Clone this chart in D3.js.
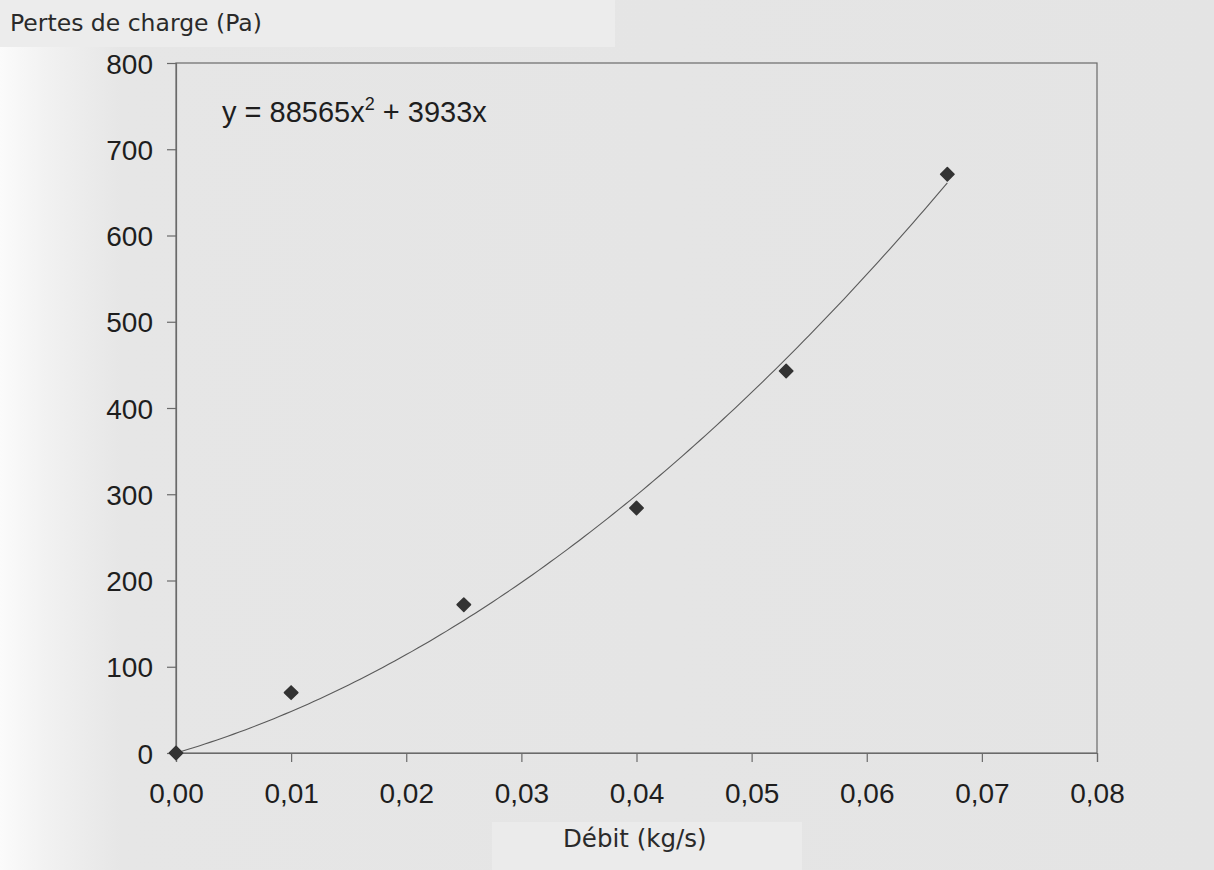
<!DOCTYPE html>
<html>
<head>
<meta charset="utf-8">
<script src="https://cdn.jsdelivr.net/npm/d3@7"></script>
<style>
  html, body { margin: 0; padding: 0; }
  body { width: 1214px; height: 870px; overflow: hidden; background: #e5e5e5; }
  svg { display: block; }
</style>
</head>
<body>
<svg id="chart" width="1214" height="870"></svg>
<script>
// mesures (débit en kg/s, pertes de charge en Pa)
const debit = [0, 0.01, 0.025, 0.04, 0.053, 0.067];
const pertes = [0, 70, 172, 284, 443, 671];
// courbe de tendance polynomiale y = a x² + b x
const coefA = 88565;
const coefB = 3933;
const xTicks = [0, 0.01, 0.02, 0.03, 0.04, 0.05, 0.06, 0.07, 0.08];
const yTicks = [0, 100, 200, 300, 400, 500, 600, 700, 800];

const width = 1214, height = 870;
const margin = {top: 63, right: 117, bottom: 117, left: 176};

const svg = d3.select("#chart");

// fond "papier scanné"
const defs = svg.append("defs");
const grad = defs.append("linearGradient").attr("id", "paper").attr("x1", 0).attr("x2", 1).attr("y1", 0).attr("y2", 0);
grad.append("stop").attr("offset", "0").attr("stop-color", "#fbfbfb");
grad.append("stop").attr("offset", "0.04").attr("stop-color", "#f1f1f1");
grad.append("stop").attr("offset", "0.10").attr("stop-color", "#e6e6e6");
grad.append("stop").attr("offset", "1").attr("stop-color", "#e4e4e4");
svg.append("rect").attr("width", width).attr("height", height).attr("fill", "url(#paper)");

// zones claires derrière les titres d'axes
svg.append("rect").attr("x", 0).attr("y", 0).attr("width", 615).attr("height", 47).attr("fill", "#ececec");
svg.append("rect").attr("x", 492).attr("y", 822).attr("width", 310).attr("height", 48).attr("fill", "#ebebeb");

const x = d3.scaleLinear().domain([0, 0.08]).range([margin.left, width - margin.right]);
const y = d3.scaleLinear().domain([0, 800]).range([height - margin.bottom, margin.top]);

const fr = d3.formatLocale({decimal: ",", thousands: " ", grouping: [3], currency: ["", " €"]});
const fmtX = fr.format(".2f");

const g = svg.append("g");

// cadre de la zone de tracé
g.append("rect")
  .attr("x", x(0)).attr("y", y(800))
  .attr("width", x(0.08) - x(0)).attr("height", y(0) - y(800))
  .attr("fill", "none").attr("stroke", "#6a6a6a").attr("stroke-width", 1.2);

const xAxis = g.append("g")
  .attr("transform", `translate(0,${y(0)})`)
  .call(d3.axisBottom(x).tickValues(xTicks).tickFormat(fmtX).tickSize(9).tickPadding(21));

const yAxis = g.append("g")
  .attr("transform", `translate(${x(0)},0)`)
  .call(d3.axisLeft(y).tickValues(yTicks).tickSize(9).tickPadding(14));

[xAxis, yAxis].forEach(ax => {
  ax.select(".domain").attr("stroke", "#6a6a6a").attr("stroke-width", 1.2);
  ax.selectAll(".tick line").attr("stroke", "#6a6a6a").attr("stroke-width", 1.2);
  ax.selectAll(".tick text")
    .attr("fill", "#1e1e1e")
    .attr("font-family", "'Liberation Sans', Arial, sans-serif")
    .attr("font-size", 28);
});
yAxis.selectAll(".tick text").attr("dy", "0.36em");

// courbe de tendance
const curve = d3.range(0, 0.0671, 0.0005).map(v => [v, coefA * v * v + coefB * v]);
g.append("path")
  .datum(curve)
  .attr("fill", "none")
  .attr("stroke", "#5a5a5a")
  .attr("stroke-width", 1.1)
  .attr("d", d3.line().x(d => x(d[0])).y(d => y(d[1])));

// points de mesure (losanges)
g.append("g").selectAll("path")
  .data(debit.map((d, i) => [d, pertes[i]]))
  .join("path")
    .attr("transform", d => `translate(${x(d[0])},${y(d[1])})`)
    .attr("d", d3.symbol(d3.symbolDiamond2, 115))
    .attr("fill", "#333")
    .attr("stroke", "#333")
    .attr("stroke-width", 1.5)
    .attr("stroke-linejoin", "round");

// équation
const eq = svg.append("text")
  .attr("x", 222).attr("y", 122)
  .attr("font-family", "'Liberation Sans', Arial, sans-serif")
  .attr("font-size", 29)
  .attr("fill", "#1e1e1e");
eq.append("tspan").text("y = 88565x");
eq.append("tspan").attr("dy", -12).attr("font-size", 18).text("2");
eq.append("tspan").attr("dy", 12).text(" + 3933x");

// titres d'axes
svg.append("text")
  .attr("x", 10).attr("y", 31)
  .attr("font-family", "'DejaVu Sans', sans-serif")
  .attr("font-size", 23.5)
  .attr("fill", "#2a2a2a")
  .text("Pertes de charge (Pa)");

svg.append("text")
  .attr("x", 563).attr("y", 847)
  .attr("font-family", "'DejaVu Sans', sans-serif")
  .attr("font-size", 24.5)
  .attr("fill", "#2a2a2a")
  .text("Débit (kg/s)");
</script>
</body>
</html>
